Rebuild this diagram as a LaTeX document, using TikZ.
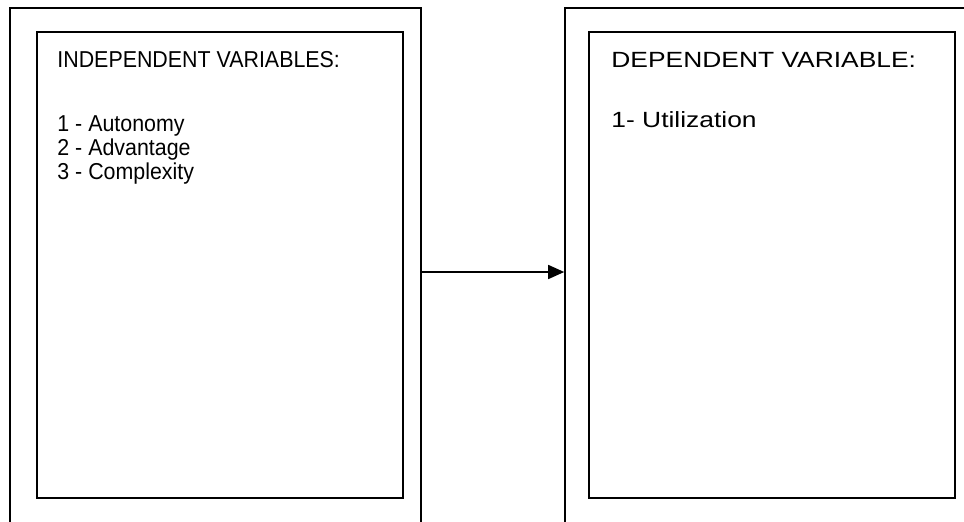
\documentclass[tikz,border=0pt]{standalone}
\usepackage{fontspec}
\setmainfont{Liberation Sans}
\newfontfamily\varfont[FakeStretch=0.93]{Liberation Sans}
\newfontfamily\depfont[FakeStretch=1.2]{Liberation Sans}
\usetikzlibrary{arrows.meta,positioning}

\begin{document}
\begin{tikzpicture}[x=1pt,y=-1pt,
  outerbox/.style={draw,line width=1.6pt,minimum width=411pt,minimum height=528pt,inner sep=0pt},
  innerbox/.style={draw,line width=1.6pt,minimum width=366pt,minimum height=466pt,inner sep=0pt},
  vartext/.style={anchor=base west,align=left,inner sep=0pt,font=\varfont\fontsize{23}{24}\selectfont},
  deptext/.style={anchor=base west,align=left,inner sep=0pt,font=\depfont\fontsize{22}{24}\selectfont}]
\useasboundingbox (0,0) rectangle (964,522);
\clip (0,0) rectangle (964,522);
\node[outerbox] (outerL) at (215.5,272) {};
\node[outerbox] (outerR) at (770.5,272) {};
\node[innerbox] (innerL) at (220,265) {};
\node[innerbox] (innerR) at (772,265) {};
\node[vartext] (indhead) at ([shift={(21,36)}]innerL.north west) {INDEPENDENT VARIABLES:};
\node[vartext] (indlist) at ([shift={(21,148)}]innerL.north west) {1 - Autonomy\\2 - Advantage\\3 - Complexity};
\node[deptext] (dephead) at ([shift={(23,36)}]innerR.north west) {DEPENDENT VARIABLE:};
\node[deptext] (deplist) at ([shift={(23,96)}]innerR.north west) {1- Utilization};
\draw[line width=1.6pt,-{Triangle[length=16pt,width=14pt]}] (outerL) -- (outerR);
\end{tikzpicture}
\end{document}
